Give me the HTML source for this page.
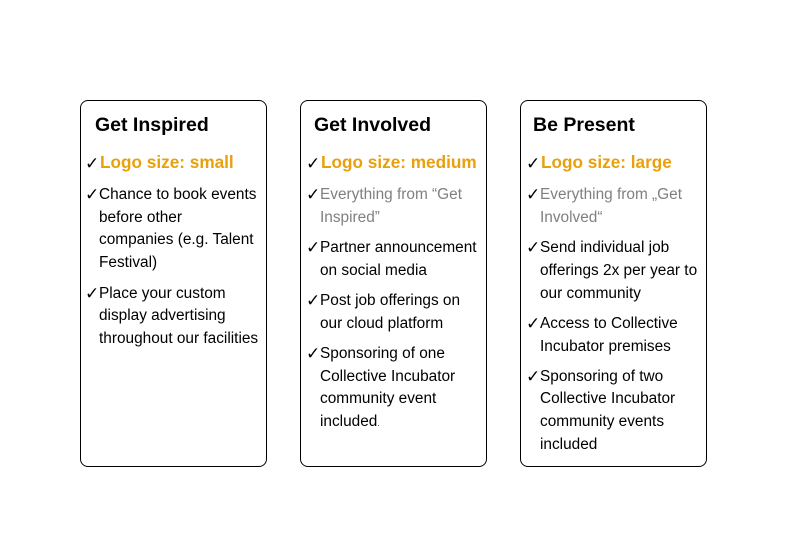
<!DOCTYPE html>
<html><head><meta charset="utf-8"><style>
body{margin:0;width:800px;height:533px;background:#fff;position:relative;font-family:"Liberation Sans",Arial,sans-serif;overflow:hidden}
.box{position:absolute;top:100px;width:187px;height:367px;border:1.5px solid #000;border-radius:8px;box-sizing:border-box}
.t{position:absolute;font-size:19.5px;font-weight:bold;line-height:24px;white-space:nowrap}
.l{position:absolute;font-size:15.4px;line-height:22px;white-space:nowrap;color:#000;margin-top:2px}
.l.o{font-size:17.2px;font-weight:bold;color:#E8A00F;margin-top:0}
.g{color:#808080}
.c{position:absolute;font-size:17px;font-weight:bold;line-height:22px;color:#000;margin-top:2px;font-family:"DejaVu Sans",sans-serif}
</style></head><body>
<div class="box" style="left:80px"></div>
<div class="box" style="left:300px"></div>
<div class="box" style="left:520px"></div>

<div class="t" style="left:95px;top:113px">Get Inspired</div>
<div class="t" style="left:314px;top:113px">Get Involved</div>
<div class="t" style="left:533px;top:113px">Be Present</div>

<div class="c" style="left:85px;top:151px">✓</div><div class="l o" style="left:100px;top:151px">Logo size: small</div>
<div class="c" style="left:85px;top:182px">✓</div>
<div class="l" style="left:99px;top:182px">Chance to book events</div>
<div class="l" style="left:99px;top:205px">before other</div>
<div class="l" style="left:99px;top:227px">companies (e.g. Talent</div>
<div class="l" style="left:99px;top:250px">Festival)</div>
<div class="c" style="left:85px;top:281px">✓</div>
<div class="l" style="left:99px;top:281px">Place your custom</div>
<div class="l" style="left:99px;top:303px">display advertising</div>
<div class="l" style="left:99px;top:326px">throughout our facilities</div>

<div class="c" style="left:306px;top:151px">✓</div><div class="l o" style="left:321px;top:151px">Logo size: medium</div>
<div class="c" style="left:306px;top:182px">✓</div>
<div class="l g" style="left:320px;top:182px">Everything from “Get</div>
<div class="l g" style="left:320px;top:205px">Inspired”</div>
<div class="c" style="left:306px;top:235px">✓</div>
<div class="l" style="left:320px;top:235px">Partner announcement</div>
<div class="l" style="left:320px;top:258px">on social media</div>
<div class="c" style="left:306px;top:288px">✓</div>
<div class="l" style="left:320px;top:288px">Post job offerings on</div>
<div class="l" style="left:320px;top:311px">our cloud platform</div>
<div class="c" style="left:306px;top:341px">✓</div>
<div class="l" style="left:320px;top:341px">Sponsoring of one</div>
<div class="l" style="left:320px;top:364px">Collective Incubator</div>
<div class="l" style="left:320px;top:386px">community event</div>
<div class="l" style="left:320px;top:409px">included<span style="font-size:8px">.</span></div>

<div class="c" style="left:526px;top:151px">✓</div><div class="l o" style="left:541px;top:151px">Logo size: large</div>
<div class="c" style="left:526px;top:182px">✓</div>
<div class="l g" style="left:540px;top:182px">Everything from „Get</div>
<div class="l g" style="left:540px;top:205px">Involved“</div>
<div class="c" style="left:526px;top:235px">✓</div>
<div class="l" style="left:540px;top:235px">Send individual job</div>
<div class="l" style="left:540px;top:258px">offerings 2x per year to</div>
<div class="l" style="left:540px;top:281px">our community</div>
<div class="c" style="left:526px;top:311px">✓</div>
<div class="l" style="left:540px;top:311px">Access to Collective</div>
<div class="l" style="left:540px;top:334px">Incubator premises</div>
<div class="c" style="left:526px;top:364px">✓</div>
<div class="l" style="left:540px;top:364px">Sponsoring of two</div>
<div class="l" style="left:540px;top:386px">Collective Incubator</div>
<div class="l" style="left:540px;top:409px">community events</div>
<div class="l" style="left:540px;top:432px">included</div>
</body></html>
